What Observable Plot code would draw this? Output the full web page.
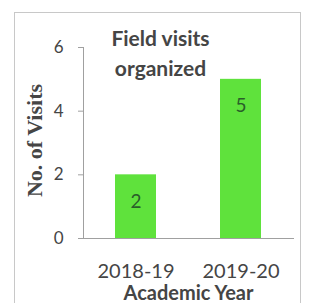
<!DOCTYPE html>
<html><head><meta charset="utf-8">
<script src="https://cdn.jsdelivr.net/npm/d3@7"></script>
<script src="https://cdn.jsdelivr.net/npm/@observablehq/plot@0.6"></script>
<style>
body{margin:0;background:#fff;width:315px;height:303px;overflow:hidden;position:relative}
#frame{position:absolute;left:14px;top:12px;width:287px;height:300px;border:1.5px solid #c8c8c8;box-sizing:border-box}
#chart{position:absolute;left:0;top:0}
</style></head><body>
<div id="frame"></div>
<div id="chart"></div>
<script>
const years = ["2018-19", "2019-20"];
const visits = [2, 5];
const yTicks = [0, 2, 4, 6];
const title = "Field visits\norganized";
const yLabel = "No. of Visits";
const xLabel = "Academic Year";

const data = years.map((y, i) => ({year: y, visits: visits[i]}));

const chart = Plot.plot({
  width: 315, height: 303,
  marginLeft: 83, marginRight: 22, marginTop: 47, marginBottom: 65,
  style: {background: "transparent", fontFamily: "Lato, 'Open Sans', sans-serif", color: "#454545"},
  x: {domain: years, paddingInner: 0.61, paddingOuter: 0.305, label: null},
  y: {domain: [0, 6], label: null},
  marks: [
    Plot.barY(data, {x: "year", y: "visits", fill: "#5fe23c"}),
    Plot.frame({anchor: "left", stroke: "#a0a0a0"}),
    Plot.frame({anchor: "bottom", stroke: "#a0a0a0"}),
    Plot.axisY({ticks: yTicks, tickFormat: "d", tickSize: 5, tickPadding: 15, fontSize: 17, stroke: "#a0a0a0", label: null}),
    Plot.axisX({tickSize: 0, tickPadding: 25, fontSize: 20, label: null}),
    Plot.text(data, {x: "year", y: "visits", text: d => String(d.visits), dy: 27, fontSize: 19, fill: "#2a5e2a"}),
    Plot.text([title], {frameAnchor: "top", dx: -28, dy: -23, lineAnchor: "top", lineHeight: 1.43, fontSize: 21, fontWeight: "bold", fill: "#454545"}),
    Plot.text([yLabel], {frameAnchor: "left", textAnchor: "middle", lineAnchor: "middle", dx: -49, dy: -2.5, rotate: -90, fontSize: 22, fontWeight: "bold", fontFamily: "'Liberation Serif', serif", fill: "#454545"}),
    Plot.text([xLabel], {frameAnchor: "bottom", dy: 55.5, lineAnchor: "middle", fontSize: 20, fontWeight: "bold", fill: "#454545"})
  ]
});
document.getElementById("chart").append(chart);
</script>
</body></html>
